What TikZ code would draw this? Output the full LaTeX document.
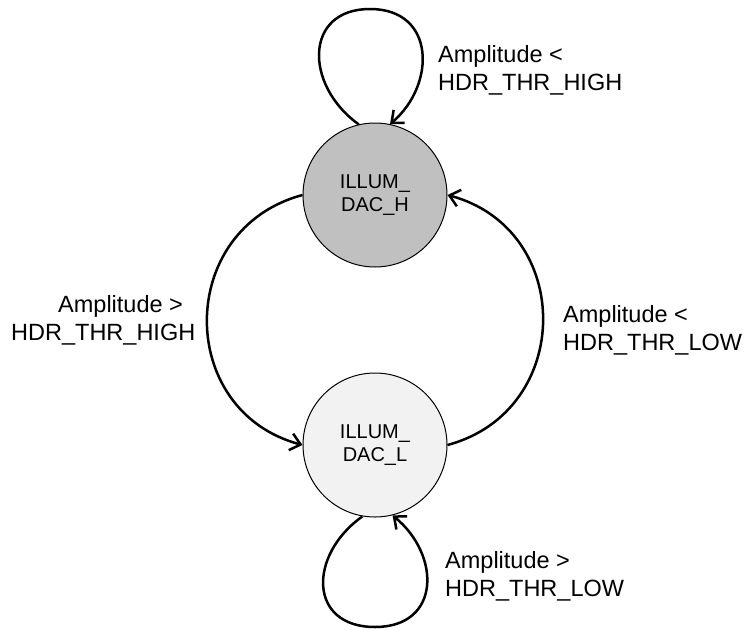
\documentclass[tikz,border=0pt]{standalone}
\usepackage{fontspec}
\setmainfont{Liberation Sans}
\usetikzlibrary{arrows.meta}
\definecolor{hgray}{HTML}{C0C0C0}
\definecolor{lgray}{HTML}{F2F2F2}
\begin{document}
\begin{tikzpicture}[x=1pt,y=-1pt,
  state/.style={circle,draw=black,line width=1pt,minimum size=144pt,inner sep=0pt,align=center,font=\fontsize{20}{23}\selectfont},
  edge/.style={line width=2.5pt,-{Straight Barb[length=10pt,width=17pt]}},
  lbl/.style={font=\fontsize{23.5}{28}\selectfont,align=left,inner sep=0pt,anchor=base west}]
\useasboundingbox (0,0) rectangle (744,629);
\node[state,fill=hgray] (H) at (375,195) {ILLUM\_\\DAC\_H};
\node[state,fill=lgray] (L) at (375,445) {ILLUM\_\\DAC\_L};
\coordinate (Htop) at (370,9);
\coordinate (Lbot) at (375,627);
\draw[line width=2.5pt] (H.103) .. controls (304,85) and (304,9) .. (Htop);
\draw[edge] (Htop) .. controls (436,9) and (436,85) .. (H.78);
\draw[line width=2.5pt] (L.-100) .. controls (308,555) and (308,627) .. (Lbot);
\draw[edge] (Lbot) .. controls (441,627) and (441,555) .. (L.-76);
\draw[edge] (H.180) .. controls +(-127,34) and +(-127,-34) .. (L.180);
\draw[edge] (L.0) .. controls +(127,-34) and +(127,34) .. (H.0);
\node[lbl] (t1) at (438,90) {Amplitude <\\HDR\_THR\_HIGH};
\node[lbl] (t2) at (11,340) {\hspace*{47pt}Amplitude >\\HDR\_THR\_HIGH};
\node[lbl] (t3) at (563,350) {Amplitude <\\HDR\_THR\_LOW};
\node[lbl] (t4) at (445,596) {Amplitude >\\HDR\_THR\_LOW};
\end{tikzpicture}
\end{document}
